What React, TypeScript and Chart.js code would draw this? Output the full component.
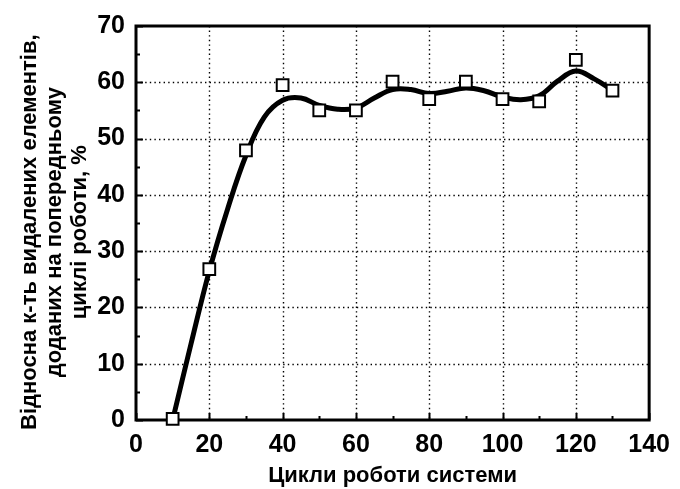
import React, { useEffect, useRef } from 'react';
import { Chart, registerables } from 'chart.js';

Chart.register(...registerables);

// Measured points (square markers)
const cycles = [10, 20, 30, 40, 50, 60, 70, 80, 90, 100, 110, 120, 130];
const removedShare = [0.2, 26.8, 47.9, 59.5, 55.0, 55.0, 60.1, 57.0, 60.1, 57.0, 56.6, 64.0, 58.5];

// Smoothed curve
const fitCycles = [10, 15, 20, 25, 30, 35, 40, 45, 50, 55, 60, 65, 70, 75, 80, 85, 90, 95, 100, 105, 110, 115, 120, 125, 130];
const fitShare = [0, 13.5, 26.5, 37.5, 47.0, 53.8, 56.8, 57.2, 55.9, 55.2, 55.4, 57.2, 58.7, 58.7, 58.0, 58.4, 59.0, 58.5, 57.4, 56.9, 57.6, 60.2, 62.0, 60.6, 58.6];

const xTickValues = [0, 20, 40, 60, 80, 100, 120, 140];
const yTickValues = [0, 10, 20, 30, 40, 50, 60, 70];
const xMinorValues = [10, 30, 50, 70, 90, 110, 130];
const yMinorValues = [5, 15, 25, 35, 45, 55, 65];

const xTitle = 'Цикли роботи системи';
const yTitle = ['Відносна к-ть видалених елементів,\u00A0\u00A0\u00A0', 'доданих на попередньому\u00A0\u00A0\u00A0', 'циклі роботи, %\u00A0\u00A0\u00A0'];

const FONT = "'Liberation Sans', Arial, sans-serif";

const framePlugin = {
  id: 'frameAndTicks',
  beforeDatasetsDraw(chart: any) {
    const { ctx, chartArea } = chart;
    const xs = chart.scales.x;
    const ys = chart.scales.y;
    const { left, right, top, bottom } = chartArea;
    ctx.save();
    // dotted grid
    ctx.strokeStyle = '#000';
    ctx.lineWidth = 1.4;
    ctx.setLineDash([1.4, 3.2]);
    ctx.beginPath();
    xTickValues.forEach((v) => {
      const px = Math.round(xs.getPixelForValue(v)) + 0.5;
      if (px <= left + 2 || px >= right - 2) return;
      ctx.moveTo(px, top);
      ctx.lineTo(px, bottom);
    });
    yTickValues.forEach((v) => {
      const py = Math.round(ys.getPixelForValue(v)) + 0.5;
      if (py <= top + 2 || py >= bottom - 2) return;
      ctx.moveTo(left, py);
      ctx.lineTo(right, py);
    });
    ctx.stroke();
    ctx.setLineDash([]);
    // inward ticks
    ctx.lineWidth = 2;
    ctx.beginPath();
    xTickValues.forEach((v) => {
      const px = Math.round(xs.getPixelForValue(v)) + 0.5;
      ctx.moveTo(px, bottom);
      ctx.lineTo(px, bottom - 7);
    });
    xMinorValues.forEach((v) => {
      const px = Math.round(xs.getPixelForValue(v)) + 0.5;
      ctx.moveTo(px, bottom);
      ctx.lineTo(px, bottom - 4);
    });
    yTickValues.forEach((v) => {
      const py = Math.round(ys.getPixelForValue(v)) + 0.5;
      ctx.moveTo(left, py);
      ctx.lineTo(left + 7, py);
    });
    yMinorValues.forEach((v) => {
      const py = Math.round(ys.getPixelForValue(v)) + 0.5;
      ctx.moveTo(left, py);
      ctx.lineTo(left + 4, py);
    });
    ctx.stroke();
    ctx.lineWidth = 3;
    ctx.strokeRect(left, top, right - left, bottom - top);
    ctx.restore();
  },
};

export default function App() {
  const canvasRef = useRef<HTMLCanvasElement | null>(null);

  useEffect(() => {
    document.body.style.margin = '0';
    const canvas = canvasRef.current;
    if (!canvas) return;
    const chart = new Chart(canvas, {
      type: 'scatter',
      data: {
        datasets: [
          {
            label: 'points',
            data: cycles.map((x, i) => ({ x, y: removedShare[i] })),
            pointStyle: 'rect',
            pointRadius: 8.3,
            pointBackgroundColor: '#fff',
            pointBorderColor: '#000',
            pointBorderWidth: 2,
            showLine: false,
            clip: false as any,
            order: 0,
          },
          {
            label: 'fit',
            data: fitCycles.map((x, i) => ({ x, y: fitShare[i] })),
            showLine: true,
            borderColor: '#000',
            borderWidth: 5,
            pointRadius: 0,
            tension: 0.4,
            fill: false,
            order: 1,
          },
        ],
      },
      options: {
        animation: false,
        responsive: false,
        maintainAspectRatio: false,
        layout: { padding: { top: 24, right: 23, left: 0, bottom: 0 } },
        plugins: {
          legend: { display: false },
          tooltip: { enabled: false },
        },
        scales: {
          x: {
            type: 'linear',
            min: 0,
            max: 140,
            afterBuildTicks: (scale: any) => {
              scale.ticks = xTickValues.map((v) => ({ value: v }));
            },
            afterFit: (scale: any) => {
              scale.height = 69;
            },
            grid: { display: false, drawTicks: false },
            border: { display: false },
            ticks: {
              color: '#000',
              padding: 10,
              font: { family: FONT, size: 25, weight: 'bold' },
              maxRotation: 0,
            },
            title: {
              display: true,
              text: xTitle,
              color: '#000',
              font: { family: FONT, size: 22, weight: 'bold' },
              padding: { top: 0, bottom: 0 },
            },
          },
          y: {
            type: 'linear',
            min: 0,
            max: 70,
            afterBuildTicks: (scale: any) => {
              scale.ticks = yTickValues.map((v) => ({ value: v }));
            },
            afterFit: (scale: any) => {
              scale.width = 136;
            },
            grid: { display: false, drawTicks: false },
            border: { display: false },
            ticks: {
              color: '#000',
              padding: 11,
              font: { family: FONT, size: 25, weight: 'bold' },
            },
            title: {
              display: true,
              text: yTitle,
              color: '#000',
              font: { family: FONT, size: 22, weight: 'bold', lineHeight: 1.15 },
              padding: { top: 17, bottom: 0 },
            },
          },
        },
      },
      plugins: [framePlugin],
    });
    return () => chart.destroy();
  }, []);

  return (
    <div style={{ position: 'absolute', left: 0, top: 0, width: 680, height: 489, background: '#fff' }}>
      <canvas ref={canvasRef} width={680} height={489} style={{ width: 680, height: 489, display: 'block' }} />
    </div>
  );
}
